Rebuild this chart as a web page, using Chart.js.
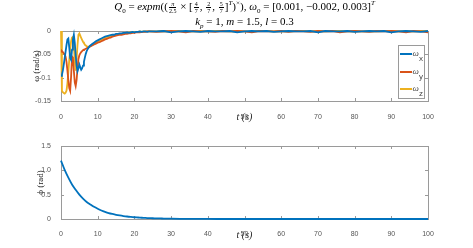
<!DOCTYPE html>
<html>
<head>
<meta charset="utf-8">
<script src="https://cdn.jsdelivr.net/npm/chart.js@4"></script>
<style>
  html, body { margin: 0; padding: 0; background: #fff; }
  #wrap { position: relative; width: 473px; height: 248px; }
  canvas { position: absolute; left: 0; top: 0; }
  .ttl { position: absolute; left: 0; width: 489px; text-align: center; font-family: "Liberation Serif", serif; font-size: 11px; color: #000; white-space: nowrap; line-height: 12px; }
  .ttl sub, .ttl sup { font-size: 7px; line-height: 0; }
  .fr { display: inline-block; vertical-align: middle; text-align: center; font-size: 6px; line-height: 6px; margin: 0 1px; }
  .fr span { display: block; }
  .fr .n { border-bottom: 0.6px solid #000; padding: 0 1px; }
</style>
</head>
<body>
<div id="wrap">
  <canvas id="top" width="473" height="248"></canvas>
  <canvas id="bottom" width="473" height="248"></canvas>
  <div class="ttl" style="top:0px"><i>Q</i><sub>0</sub> = <i>expm</i>((<span class="fr"><span class="n"><i>π</i></span><span>2.5</span></span> × [<span class="fr"><span class="n">4</span><span>7</span></span>, <span class="fr"><span class="n">2</span><span>7</span></span>, <span class="fr"><span class="n">5</span><span>7</span></span>]<sup><i>T</i></sup>)<sup>×</sup>), <i>ω</i><sub>0</sub> = [0.001, −0.002, 0.003]<sup><i>T</i></sup></div>
  <div class="ttl" style="top:15px"><i>k</i><sub><i>p</i></sub> = 1, <i>m</i> = 1.5, <i>l</i> = 0.3</div>
</div>
<script>
// angular velocity, time in s
const tTop = [
  0, 0.25, 0.5, 0.75, 1, 1.25, 1.5, 1.75, 2, 2.25, 2.5, 2.75, 3, 3.25, 3.5, 3.75, 4,
  4.25, 4.5, 4.75, 5, 5.25, 5.5, 5.75, 6, 6.25, 6.5, 6.75, 7, 7.25, 7.5, 7.75, 8,
  8.5, 9, 9.5, 10, 10.5, 11, 11.5, 12, 12.5, 13, 13.5, 14, 14.5, 15, 15.5, 16,
  16.5, 17, 17.5, 18, 18.5, 19, 19.5, 20, 20.5, 21, 21.5, 22, 22.5, 23, 23.5, 24,
  26, 28, 30, 32, 34, 36, 38, 40, 42, 44, 46, 48, 50, 52, 54, 56, 58, 60, 62,
  64, 66, 68, 70, 72, 74, 76, 78, 80, 82, 84, 86, 88, 90, 92, 94, 96, 98, 100
];
const wx = [
  -0.096, -0.094, -0.085, -0.072, -0.058, -0.044, -0.030, -0.018, -0.016, -0.035, -0.058, -0.062, -0.040, -0.018, -0.008, -0.025, -0.052,
  -0.074, -0.086, -0.080, -0.072, -0.078, -0.083, -0.080, -0.074, -0.066, -0.057, -0.049, -0.043, -0.039, -0.036, -0.033, -0.031,
  -0.028, -0.025, -0.022, -0.020, -0.018, -0.016, -0.014, -0.012, -0.011, -0.010, -0.009, -0.008, -0.008, -0.006, -0.006, -0.005,
  -0.005, -0.004, -0.004, -0.003, -0.004, -0.003, -0.002, -0.003, -0.002, -0.002, -0.001, -0.002, -0.001, -0.001, -0.002, -0.001,
  -0.001, 0, -0.003, -0.001, 0, -0.001, -0.002, 0, -0.001, -0.001, 0, -0.003, -0.001, 0, -0.001, 0, -0.002, -0.001, 0,
  -0.001, -0.001, 0, -0.003, 0, -0.001, -0.001, 0, -0.002, -0.001, 0, -0.001, 0, -0.003, -0.001, 0, -0.001, -0.002, 0
];
const wy = [
  -0.044, -0.043, -0.045, -0.048, -0.050, -0.055, -0.066, -0.085, -0.105, -0.122, -0.128, -0.098, -0.055, -0.058, -0.085, -0.110, -0.118,
  -0.105, -0.080, -0.060, -0.052, -0.048, -0.045, -0.043, -0.041, -0.040, -0.039, -0.038, -0.037, -0.036, -0.035, -0.034, -0.033,
  -0.031, -0.029, -0.027, -0.025, -0.024, -0.022, -0.020, -0.018, -0.017, -0.015, -0.014, -0.012, -0.011, -0.010, -0.009, -0.008,
  -0.008, -0.007, -0.006, -0.006, -0.005, -0.005, -0.004, -0.004, -0.003, -0.003, -0.003, -0.002, -0.002, -0.002, -0.001, -0.001,
  -0.002, -0.001, 0, -0.001, -0.003, 0, -0.001, -0.001, -0.002, 0, -0.001, 0, -0.001, -0.003, 0, -0.001, -0.001, 0, -0.002,
  0, -0.001, -0.002, 0, -0.001, 0, -0.003, -0.001, 0, -0.001, -0.002, 0, -0.001, 0, -0.001, -0.003, 0, -0.001, -0.003
];
const wz = [
  0, -0.128, -0.131, -0.133, -0.134, -0.132, -0.128, -0.112, -0.088, -0.062, -0.040, -0.022, -0.014, -0.011, -0.030, -0.065, -0.085,
  -0.060, -0.030, -0.008, -0.005, -0.010, -0.015, -0.019, -0.023, -0.026, -0.029, -0.031, -0.033, -0.034, -0.034, -0.033, -0.032,
  -0.030, -0.028, -0.025, -0.023, -0.021, -0.019, -0.017, -0.015, -0.014, -0.012, -0.011, -0.010, -0.009, -0.008, -0.007, -0.006,
  -0.006, -0.005, -0.004, -0.004, -0.003, -0.003, -0.003, -0.002, -0.002, -0.002, -0.001, -0.002, -0.001, -0.001, -0.001, -0.001,
  -0.001, 0, -0.001, 0, -0.001, -0.001, 0, -0.001, 0, 0, -0.001, 0, -0.001, -0.001, 0, 0, -0.001, 0, -0.001,
  0, 0, -0.001, 0, -0.001, 0, 0, -0.001, 0, -0.001, 0, -0.001, 0, 0, -0.001, 0, -0.001, 0, 0
];
const wLabels = ["x", "y", "z"];
const wColors = ["#0072BD", "#D95319", "#EDB120"];

// attitude error
const tPhi = [
  0, 1, 2, 3, 4, 5, 6, 7, 8, 9, 10, 11, 12, 13, 14, 15, 16, 17, 18, 19, 20,
  21, 22, 23, 24, 25, 26, 27, 28, 29, 30,
  35, 40, 45, 50, 55, 60, 65, 70, 75, 80, 85, 90, 95, 100
];
const phi = [
  1.2, 1.01, 0.85, 0.71, 0.6, 0.5, 0.42, 0.35, 0.3, 0.25, 0.21, 0.175, 0.147, 0.123, 0.104, 0.087, 0.073, 0.061, 0.051, 0.043, 0.036,
  0.031, 0.026, 0.022, 0.018, 0.015, 0.013, 0.011, 0.009, 0.008, 0.006,
  0.003, 0.001, 0, 0, 0, 0, 0, 0, 0, 0, 0, 0, 0, 0
];

const xTicks = [0, 10, 20, 30, 40, 50, 60, 70, 80, 90, 100];

const tickFont = { family: "Liberation Sans", size: 7 };
const tickColor = "#555";
const titleFont = { family: "Liberation Serif", size: 9 };
const tFont = { family: "Liberation Serif", size: 10, style: "italic" };

const pts = (xs, ys) => xs.map((x, i) => ({ x, y: ys[i] }));

// matlab style box with inward ticks
const frame = {
  id: "frame",
  beforeDatasetsDraw(chart) {
    const { ctx, chartArea: a, scales: { x, y } } = chart;
    ctx.save();
    ctx.strokeStyle = "#9a9a9a";
    ctx.lineWidth = 1;
    ctx.strokeRect(Math.round(a.left) + 0.5, Math.round(a.top) + 0.5, Math.round(a.width), Math.round(a.height));
    ctx.beginPath();
    x.ticks.forEach(t => {
      const px = Math.round(x.getPixelForValue(t.value)) + 0.5;
      ctx.moveTo(px, a.bottom); ctx.lineTo(px, a.bottom - 3);
      ctx.moveTo(px, a.top); ctx.lineTo(px, a.top + 3);
    });
    y.ticks.forEach(t => {
      const py = Math.round(y.getPixelForValue(t.value)) + 0.5;
      ctx.moveTo(a.left, py); ctx.lineTo(a.left + 3, py);
      ctx.moveTo(a.right, py); ctx.lineTo(a.right - 3, py);
    });
    ctx.stroke();
    ctx.restore();
  }
};

const omegaLegend = {
  id: "omegaLegend",
  afterDraw(chart) {
    const { ctx } = chart;
    const bx = 398, by = 45, bw = 26, bh = 53;
    ctx.save();
    ctx.fillStyle = "#fff";
    ctx.fillRect(bx, by, bw, bh);
    ctx.strokeStyle = "#9a9a9a";
    ctx.lineWidth = 1;
    ctx.strokeRect(bx + 0.5, by + 0.5, bw, bh);
    const rows = [54, 72, 89];
    chart.data.datasets.forEach((ds, i) => {
      const yy = rows[i];
      ctx.strokeStyle = ds.borderColor;
      ctx.lineWidth = 2;
      ctx.beginPath();
      ctx.moveTo(400, yy); ctx.lineTo(412, yy);
      ctx.stroke();
      ctx.fillStyle = "#444";
      ctx.textBaseline = "middle";
      ctx.font = "italic 9px 'Liberation Serif'";
      ctx.fillText("ω", 412.5, yy);
      ctx.font = "8px 'Liberation Sans'";
      ctx.fillText(wLabels[i], 419, yy + 5);
    });
    ctx.restore();
  }
};

new Chart(document.getElementById("top"), {
  type: "line",
  data: {
    datasets: wLabels.map((s, i) => ({
      label: "ω" + s,
      data: pts(tTop, [wx, wy, wz][i]),
      borderColor: wColors[i],
      borderWidth: 1.8,
      pointRadius: 0,
      tension: 0,
      clip: 2
    }))
  },
  options: {
    responsive: false,
    animation: false,
    layout: { padding: { left: 31, top: 31, right: 45, bottom: 125 } },
    plugins: { legend: { display: false }, tooltip: { enabled: false } },
    scales: {
      x: {
        type: "linear", min: 0, max: 100,
        afterBuildTicks: s => { s.ticks = xTicks.map(v => ({ value: v })); },
        afterFit: s => { s.height = 22; },
        grid: { display: false }, border: { display: false },
        ticks: { font: tickFont, color: tickColor, padding: 4, maxRotation: 0 },
        title: { display: true, text: "t (s)", font: tFont, color: "#222", padding: 0 }
      },
      y: {
        min: -0.15, max: 0,
        afterFit: s => { s.width = 30; },
        grid: { display: false }, border: { display: false },
        ticks: { stepSize: 0.05, font: tickFont, color: tickColor, padding: 2,
          callback: v => String(Math.round(v * 100) / 100) },
        title: { display: true, text: "ω (rad/s)", font: titleFont, color: "#222", padding: 0 }
      }
    }
  },
  plugins: [frame, omegaLegend]
});

new Chart(document.getElementById("bottom"), {
  type: "line",
  data: {
    datasets: [{
      label: "ϕ",
      data: pts(tPhi, phi),
      borderColor: wColors[0],
      borderWidth: 1.8,
      pointRadius: 0,
      tension: 0.3,
      clip: 2
    }]
  },
  options: {
    responsive: false,
    animation: false,
    layout: { padding: { left: 35, top: 146, right: 45, bottom: 7 } },
    plugins: { legend: { display: false }, tooltip: { enabled: false } },
    scales: {
      x: {
        type: "linear", min: 0, max: 100,
        afterBuildTicks: s => { s.ticks = xTicks.map(v => ({ value: v })); },
        afterFit: s => { s.height = 22; },
        grid: { display: false }, border: { display: false },
        ticks: { font: tickFont, color: tickColor, padding: 3, maxRotation: 0 },
        title: { display: true, text: "t (s)", font: tFont, color: "#222", padding: 0 }
      },
      y: {
        min: 0, max: 1.5,
        afterFit: s => { s.width = 26; },
        grid: { display: false }, border: { display: false },
        ticks: { stepSize: 0.5, font: tickFont, color: tickColor, padding: 2 },
        title: { display: true, text: "ϕ (rad)", font: titleFont, color: "#222", padding: 0 }
      }
    }
  },
  plugins: [frame]
});
</script>
</body>
</html>
